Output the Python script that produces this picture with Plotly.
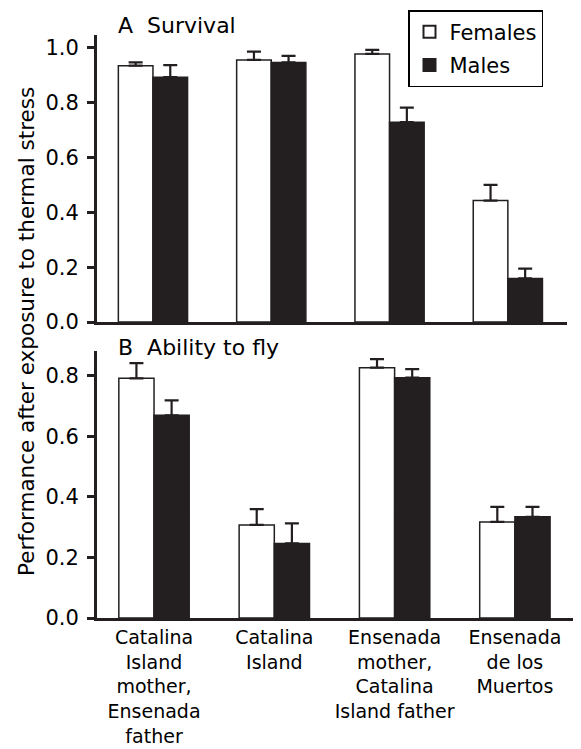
import plotly.graph_objects as go

categories = ["Catalina<br>Island<br>mother,<br>Ensenada<br>father",
              "Catalina<br>Island",
              "Ensenada<br>mother,<br>Catalina<br>Island father",
              "Ensenada<br>de los<br>Muertos"]

surv_f = [0.935, 0.956, 0.978, 0.443]
surv_f_err = [0.012, 0.030, 0.015, 0.057]
surv_m = [0.893, 0.947, 0.729, 0.159]
surv_m_err = [0.044, 0.024, 0.053, 0.036]

fly_f = [0.791, 0.307, 0.826, 0.317]
fly_f_err = [0.050, 0.052, 0.028, 0.050]
fly_m = [0.669, 0.246, 0.793, 0.334]
fly_m_err = [0.049, 0.066, 0.028, 0.033]

INK = "#231f20"
FONT = "DejaVu Sans, Liberation Sans, Arial, sans-serif"
idx = list(range(len(categories)))

# page body has an 8px margin; figure sized to fill the rest of the window
OFF = 8
W, H = 581 - OFF, 749 - OFF
ML, MR, MT, MB = 97 - OFF, 8, 2, 131
PW, PH = W - ML - MR, H - MT - MB

def px_x(p):
    return (p - OFF - ML) / PW

def px_y(p):
    return 1 - (p - OFF - MT) / PH

fig = go.Figure()

def add_bar(y, err, name, fill, xa, ya, show):
    fig.add_trace(go.Bar(
        x=idx, y=y, name=name, xaxis=xa, yaxis=ya, showlegend=show,
        legendgroup=name,
        marker=dict(color=fill, line=dict(color=INK, width=1.5)),
        error_y=dict(type="data", array=err, arrayminus=[0]*len(err), symmetric=False,
                     color=INK, thickness=2.2, width=7),
    ))

add_bar(surv_f, surv_f_err, "Females", "white", "x", "y", True)
add_bar(surv_m, surv_m_err, "Males", INK, "x", "y", True)
add_bar(fly_f, fly_f_err, "Females", "white", "x2", "y2", False)
add_bar(fly_m, fly_m_err, "Males", INK, "x2", "y2", False)

axis_common = dict(showline=True, linecolor=INK, linewidth=3, showgrid=False, zeroline=False,
                   automargin=False)
yax = dict(axis_common, ticks="outside", ticklen=7, tickwidth=2.5, tickcolor=INK,
           ticklabelstandoff=4,
           tickformat=".1f", dtick=0.2, tickfont=dict(size=21, color="black", family=FONT))

fig.update_layout(
    width=W, height=H,
    margin=dict(l=ML, r=MR, t=MT, b=MB),
    paper_bgcolor="white", plot_bgcolor="white",
    barmode="group", bargap=0.415, bargroupgap=0,
    font=dict(family=FONT, color="black", size=20),
    xaxis=dict(axis_common, domain=[0, px_x(567)], range=[-0.473, 3.5], anchor="y",
               showticklabels=False, ticks=""),
    yaxis=dict(yax, domain=[px_y(322), px_y(35)], range=[0, 1.047], anchor="x"),
    xaxis2=dict(axis_common, domain=[0, 1.0], range=[-0.474, 3.483], anchor="y2",
                tickmode="array", tickvals=idx, ticktext=categories, ticks="",
                tickfont=dict(size=19, color="black", family=FONT)),
    yaxis2=dict(yax, domain=[0, px_y(350.7)], range=[0, 0.882], anchor="x2"),
    legend=dict(x=px_x(408), y=px_y(10), xanchor="left", yanchor="top",
                bordercolor="black", borderwidth=1.5, bgcolor="white",
                font=dict(size=21, family=FONT), tracegroupgap=3,
                itemsizing="constant"),
    annotations=[
        dict(text="A  Survival", xref="paper", yref="paper", x=px_x(116), y=px_y(26),
             xanchor="left", yanchor="middle", showarrow=False, font=dict(size=22)),
        dict(text="B  Ability to fly", xref="paper", yref="paper", x=px_x(116),
             y=px_y(347), xanchor="left", yanchor="middle", showarrow=False,
             font=dict(size=22)),
        dict(text="Performance after exposure to thermal stress", xref="paper", yref="paper",
             x=px_x(26), y=px_y(332), xanchor="center", yanchor="middle",
             textangle=-90, showarrow=False, font=dict(size=21.5)),
    ],
)

fig.write_html("out.html")
